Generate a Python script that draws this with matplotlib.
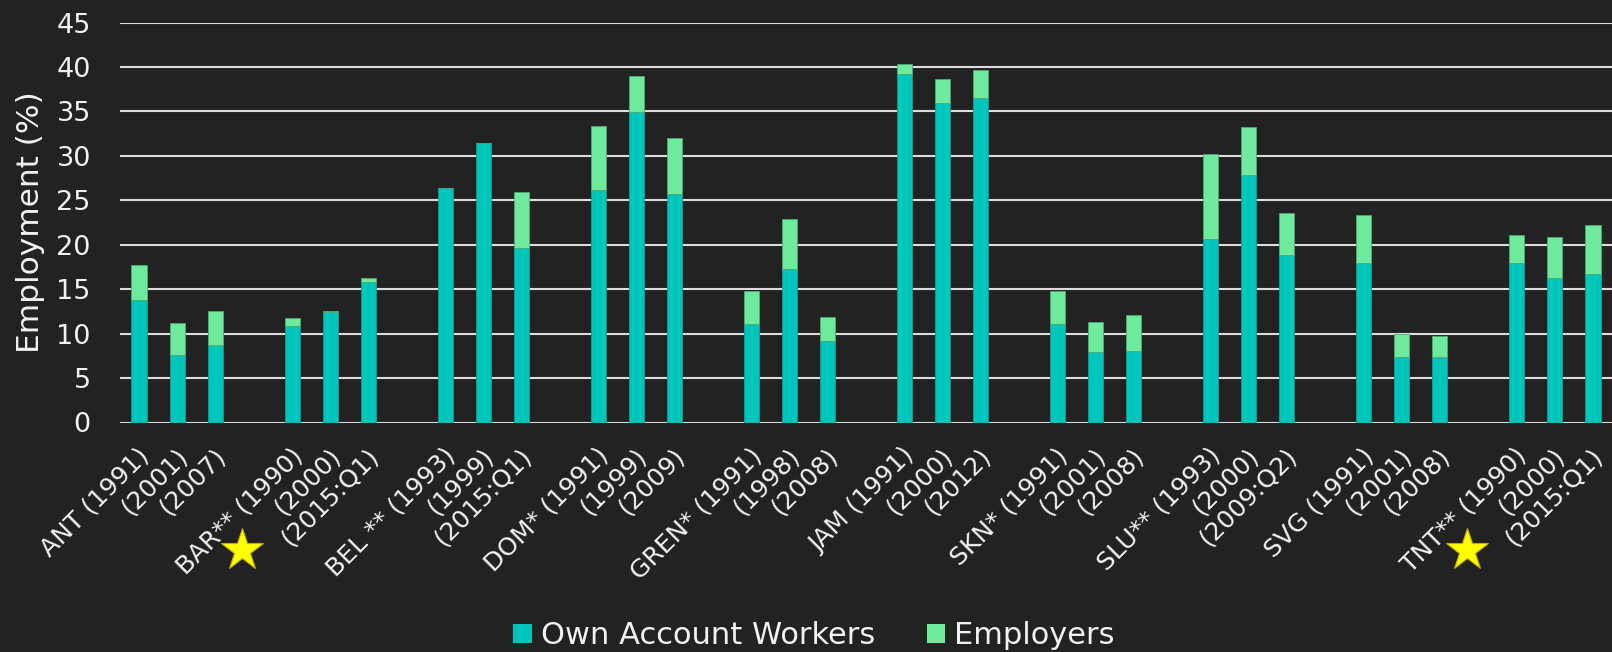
import numpy as np
import matplotlib
matplotlib.use("Agg")
import matplotlib.pyplot as plt
from matplotlib.transforms import ScaledTranslation, blended_transform_factory
from matplotlib.patches import Patch

# ---------------- data ----------------
categories = [
    "ANT (1991)", "(2001)", "(2007)", "",
    "BAR** (1990)", "(2000)", "(2015:Q1)", "",
    "BEL ** (1993)", "(1999)", "(2015:Q1)", "",
    "DOM* (1991)", "(1999)", "(2009)", "",
    "GREN* (1991)", "(1998)", "(2008)", "",
    "JAM (1991)", "(2000)", "(2012)", "",
    "SKN* (1991)", "(2001)", "(2008)", "",
    "SLU** (1993)", "(2000)", "(2009:Q2)", "",
    "SVG (1991)", "(2001)", "(2008)", "",
    "TNT** (1990)", "(2000)", "(2015:Q1)",
]
own_account = [
    13.8, 7.6, 8.7, None,
    10.9, 12.4, 15.8, None,
    26.4, 31.5, 19.6, None,
    26.2, 34.9, 25.7, None,
    11.1, 17.3, 9.2, None,
    39.2, 35.9, 36.5, None,
    11.1, 7.9, 8.1, None,
    20.7, 27.8, 18.9, None,
    17.9, 7.4, 7.4, None,
    17.9, 16.3, 16.7,
]
employers = [
    3.9, 3.6, 3.8, None,
    0.9, 0.15, 0.5, None,
    0.0, 0.0, 6.3, None,
    7.2, 4.1, 6.3, None,
    3.7, 5.6, 2.7, None,
    1.1, 2.7, 3.2, None,
    3.7, 3.4, 4.0, None,
    9.5, 5.4, 4.7, None,
    5.5, 2.6, 2.3, None,
    3.2, 4.6, 5.5,
]
series_names = ["Own Account Workers", "Employers"]
starred = ["BAR** (1990)", "TNT** (1990)"]
y_ticks = list(range(0, 50, 5))

# ---------------- style ----------------
BG = "#222222"
TEAL = "#00C5BB"
GREEN = "#6EEA9D"
TXT = "#F2F2F2"
GRID = "#DCDCDC"
plt.rcParams["font.family"] = ["DejaVu Sans"]

fig = plt.figure(figsize=(16.12, 6.52), dpi=100, facecolor=BG)
ax = fig.add_axes([120 / 1612, 1 - 422.5 / 652, 1 - 120 / 1612, (422.5 - 22.6) / 652])
ax.set_facecolor(BG)

x = np.arange(len(categories))
oa = np.array([np.nan if v is None else v for v in own_account], dtype=float)
em = np.array([np.nan if v is None else v for v in employers], dtype=float)

w = 0.4
ax.bar(x, oa, width=w, color=TEAL, edgecolor="#1A9C8F", linewidth=0.6, zorder=3,
       label=series_names[0])
ax.bar(x, em, bottom=oa, width=w, color=GREEN, edgecolor="#4FA876", linewidth=0.6,
       zorder=3, label=series_names[1])

ax.set_xlim(-0.5, len(categories) - 0.5)
ax.set_ylim(0, 45)
ax.set_yticks(y_ticks)
ax.set_yticklabels([str(t) for t in y_ticks], fontsize=19.5, color=TXT)
ax.yaxis.grid(True, color=GRID, linewidth=1.5, zorder=0)
ax.set_axisbelow(True)
for s in ax.spines.values():
    s.set_visible(False)
ax.tick_params(axis="y", length=0, pad=21)
ax.tick_params(axis="x", length=0, pad=0)

ax.set_xticks(x)
ax.set_xticklabels(categories, rotation=45, ha="right", va="top",
                   rotation_mode="anchor", fontsize=18, color=TXT)
off = ScaledTranslation(-2 / 100, -21 / 100, fig.dpi_scale_trans)
for lab in ax.get_xticklabels():
    lab.set_transform(lab.get_transform() + off)

# y label
fig.text(31 / 1612, 1 - 222 / 652, "Employment (%)", rotation=90, ha="center",
         va="center", fontsize=22.5, color=TXT)

# stars next to the starred categories
bt = blended_transform_factory(ax.transData, ax.transAxes)
for name in starred:
    i = categories.index(name)
    ax.plot([i - 1.3], [-0.32], marker="*", markersize=32, color="#FFFF00",
            markeredgecolor="#BFAE00", markeredgewidth=0.8, transform=bt,
            clip_on=False, zorder=5)

# legend
handles = [Patch(facecolor=TEAL, edgecolor="none"), Patch(facecolor=GREEN, edgecolor="none")]
leg = fig.legend(handles, series_names, loc="center", bbox_to_anchor=(0.505, 0.025),
                 ncol=2, frameon=False, fontsize=22, handlelength=0.6,
                 handleheight=0.6, handletextpad=0.3, columnspacing=1.7,
                 borderaxespad=0, borderpad=0)
for t in leg.get_texts():
    t.set_color(TXT)

fig.savefig("out.png", dpi=100, facecolor=BG)
